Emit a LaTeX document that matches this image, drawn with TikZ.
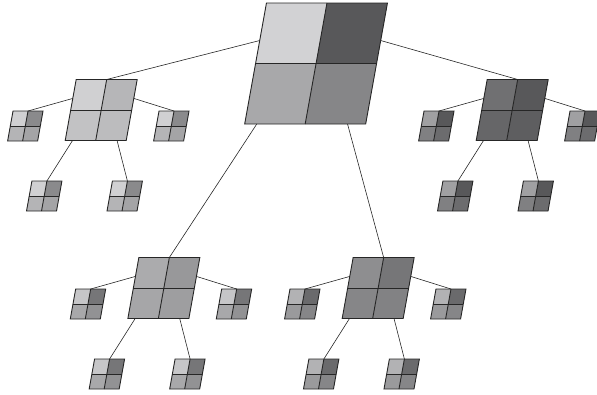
\documentclass[tikz,border=0pt]{standalone}
\usetikzlibrary{calc}
\definecolor{rA}{HTML}{D2D2D4}\definecolor{rB}{HTML}{58585A}\definecolor{rC}{HTML}{A8A8AA}\definecolor{rD}{HTML}{868688}
\definecolor{aA}{HTML}{D0D0D2}\definecolor{aB}{HTML}{B6B6B8}\definecolor{aC}{HTML}{C2C2C4}\definecolor{aD}{HTML}{BCBCBE}
\definecolor{akA}{HTML}{D0D0D2}\definecolor{akB}{HTML}{8A8A8C}\definecolor{akC}{HTML}{B4B4B6}\definecolor{akD}{HTML}{A4A4A6}
\definecolor{bA}{HTML}{707072}\definecolor{bB}{HTML}{58585A}\definecolor{bC}{HTML}{666668}\definecolor{bD}{HTML}{5E5E60}
\definecolor{bkA}{HTML}{A0A0A2}\definecolor{bkB}{HTML}{58585A}\definecolor{bkC}{HTML}{808082}\definecolor{bkD}{HTML}{6C6C6E}
\definecolor{cA}{HTML}{ABABAD}\definecolor{cB}{HTML}{98989A}\definecolor{cC}{HTML}{A6A6A8}\definecolor{cD}{HTML}{9E9EA0}
\definecolor{ckA}{HTML}{C6C6C8}\definecolor{ckB}{HTML}{767678}\definecolor{ckC}{HTML}{A8A8AA}\definecolor{ckD}{HTML}{929294}
\definecolor{dA}{HTML}{8E8E90}\definecolor{dB}{HTML}{767678}\definecolor{dC}{HTML}{868688}\definecolor{dD}{HTML}{828284}
\definecolor{dkA}{HTML}{B2B2B4}\definecolor{dkB}{HTML}{6A6A6C}\definecolor{dkC}{HTML}{9A9A9C}\definecolor{dkD}{HTML}{868688}
\tikzset{
  qnode/.style={draw=black!85, line width=0.9pt, inner sep=0pt, outer sep=0pt, transform shape},
  divider/.style={draw=black!85, line width=0.9pt},
  conn/.style={draw=black!85, line width=0.6pt}
}
% name, x, y, size, c1 (top left), c2 (top right), c3 (bottom left), c4 (bottom right)
\newcommand{\QuadBox}[8]{%
  \fill[#5] ({#2-#4/2},{#3-#4/2}) -- (#2,{#3-#4/2}) -- (#2,#3) -- ({#2-#4/2},#3) -- cycle;
  \fill[#6] (#2,{#3-#4/2}) -- ({#2+#4/2},{#3-#4/2}) -- ({#2+#4/2},#3) -- (#2,#3) -- cycle;
  \fill[#7] ({#2-#4/2},#3) -- (#2,#3) -- (#2,{#3+#4/2}) -- ({#2-#4/2},{#3+#4/2}) -- cycle;
  \fill[#8] (#2,#3) -- ({#2+#4/2},#3) -- ({#2+#4/2},{#3+#4/2}) -- (#2,{#3+#4/2}) -- cycle;
  \draw[divider] (#2,{#3-#4/2}) -- (#2,{#3+#4/2});
  \draw[divider] ({#2-#4/2},#3) -- ({#2+#4/2},#3);
  \node[qnode, minimum size=#4pt] (#1) at (#2,#3) {};
}
% parent name, cx, cy, child colours
\newcommand{\KidsOf}[7]{%
  \QuadBox{#1l}{#2-73}{#3+16}{30}{#4}{#5}{#6}{#7}
  \QuadBox{#1r}{#2+73}{#3+16}{30}{#4}{#5}{#6}{#7}
  \QuadBox{#1p}{#2-41.5}{#3+86}{30}{#4}{#5}{#6}{#7}
  \QuadBox{#1q}{#2+39}{#3+86}{30}{#4}{#5}{#6}{#7}
  \draw[conn] ($(#1.north west)!0.31!(#1.south west)$) -- (#1l.north);
  \draw[conn] ($(#1.north east)!0.31!(#1.south east)$) -- (#1r.north);
  \draw[conn] ($(#1.south west)!0.12!(#1.south east)$) -- (#1p.north);
  \draw[conn] ($(#1.south west)!0.85!(#1.south east)$) -- (#1q.north);
}
\begin{document}
\begin{tikzpicture}[x=1pt,y=-1pt]
\useasboundingbox (0,0) rectangle (597,394);
\begin{scope}[xslant=0.18]
  \QuadBox{R}{327.5}{63.5}{121}{rA}{rB}{rC}{rD}
  \QuadBox{A}{121}{110}{61}{aA}{aB}{aC}{aD}
  \QuadBox{B}{532}{110}{61}{bA}{bB}{bC}{bD}
  \QuadBox{C}{215.7}{288}{61}{cA}{cB}{cC}{cD}
  \QuadBox{D}{430}{288}{61}{dA}{dB}{dC}{dD}
  \draw[conn] ($(R.north west)!0.31!(R.south west)$) -- (A.north);
  \draw[conn] ($(R.north east)!0.31!(R.south east)$) -- (B.north);
  \draw[conn] ($(R.south west)!0.1!(R.south east)$) -- (C.north);
  \draw[conn] ($(R.south west)!0.85!(R.south east)$) -- (D.north);
  \KidsOf{A}{121}{110}{akA}{akB}{akC}{akD}
  \KidsOf{B}{532}{110}{bkA}{bkB}{bkC}{bkD}
  \KidsOf{C}{215.7}{288}{ckA}{ckB}{ckC}{ckD}
  \KidsOf{D}{430}{288}{dkA}{dkB}{dkC}{dkD}
\end{scope}
\end{tikzpicture}
\end{document}
